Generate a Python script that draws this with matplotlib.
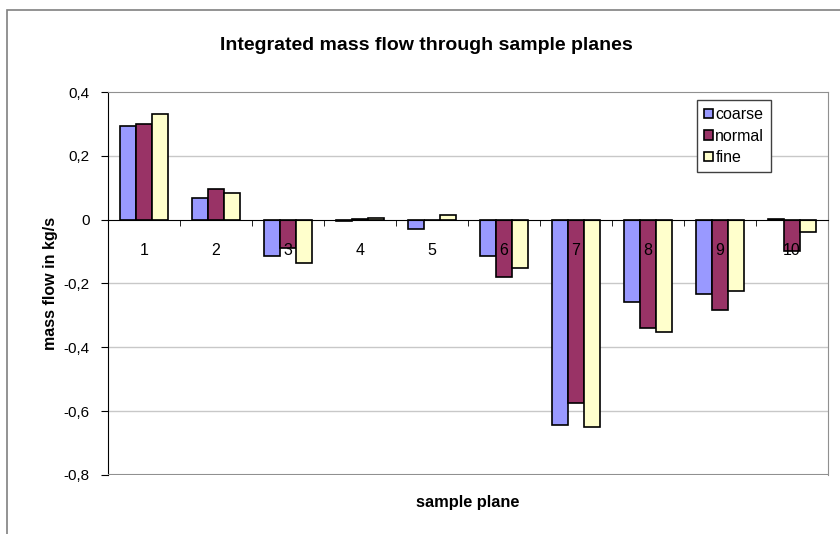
import matplotlib
matplotlib.use("Agg")
import matplotlib.pyplot as plt
import numpy as np
from matplotlib.patches import Rectangle

plt.rcParams['font.family'] = ['Liberation Sans', 'DejaVu Sans']

planes = ['1', '2', '3', '4', '5', '6', '7', '8', '9', '10']
coarse = [0.295, 0.069, -0.113, -0.003, -0.028, -0.113, -0.643, -0.258, -0.233, 0.003]
normal = [0.300, 0.097, -0.088, 0.001, -0.002, -0.180, -0.574, -0.339, -0.282, -0.097]
fine = [0.330, 0.085, -0.135, 0.004, 0.015, -0.153, -0.649, -0.351, -0.223, -0.038]
yticks = [-0.8, -0.6, -0.4, -0.2, 0, 0.2, 0.4]
ytick_labels = ['-0,8', '-0,6', '-0,4', '-0,2', '0', '0,2', '0,4']

series = [('coarse', coarse, '#9999FF'),
          ('normal', normal, '#993366'),
          ('fine', fine, '#FFFFCC')]

fig = plt.figure(figsize=(8.4, 5.34), dpi=100)
# outer chart frame
fig.patches.append(Rectangle((7/840, -0.1), 2, 1.1 - 10/534,
                             transform=fig.transFigure, fill=False,
                             edgecolor='#808080', linewidth=1.2))
ax = fig.add_axes([108/840, 1-475/534, 720/840, 383/534])

# gridlines below the bars, axis (and its labels) above
for yv in yticks[1:-1]:
    if yv != 0:
        ax.axhline(yv, color='#c8c8c8', linewidth=1, zorder=0)

x = np.arange(1, len(planes)+1)
w = 0.222
for i, (name, vals, col) in enumerate(series):
    ax.bar(x + (i-1)*w, vals, w, color=col, edgecolor='black', linewidth=1.2,
           label=name, zorder=1)

ax.set_xlim(0.5, 10.5)
ax.set_ylim(-0.8, 0.4)
ax.set_yticks(yticks)
ax.set_yticklabels(ytick_labels, fontsize=11)

# category axis crosses at zero
ax.spines['bottom'].set_position(('data', 0))
ax.spines['bottom'].set_color('black')
ax.spines['left'].set_color('black')
ax.spines['top'].set_color('#909090')
ax.spines['right'].set_color('#909090')
ax.axhline(-0.8, color='#909090', linewidth=1.5, zorder=3)

ax.set_xticks(x)
ax.set_xticklabels(planes, fontsize=11.5)
ax.set_xticks(np.arange(1.5, 10.5, 1), minor=True)
ax.tick_params(axis='x', which='major', length=0, pad=17)
ax.tick_params(axis='x', which='minor', length=4, direction='out', color='black')
ax.tick_params(axis='y', length=5, direction='out', pad=8)

fig.text(426/840, 1-45/534, 'Integrated mass flow through sample planes',
         fontsize=14, fontweight='bold', ha='center', va='center')
ax.set_ylabel('mass flow in kg/s', fontsize=11.5, fontweight='bold', labelpad=4)
fig.text(468/840, 1-503/534, 'sample plane', fontsize=11.8, fontweight='bold',
         ha='center', va='center')

leg = ax.legend(loc='upper left', bbox_to_anchor=(0.818, 0.979), fontsize=11.5,
                handlelength=0.55, handleheight=0.55, handletextpad=0.15,
                borderaxespad=0, fancybox=False, framealpha=1,
                labelspacing=0.4, borderpad=0.45)
leg.get_frame().set_edgecolor('#404040')
leg.get_frame().set_linewidth(1)

fig.savefig('out.png', dpi=100)
